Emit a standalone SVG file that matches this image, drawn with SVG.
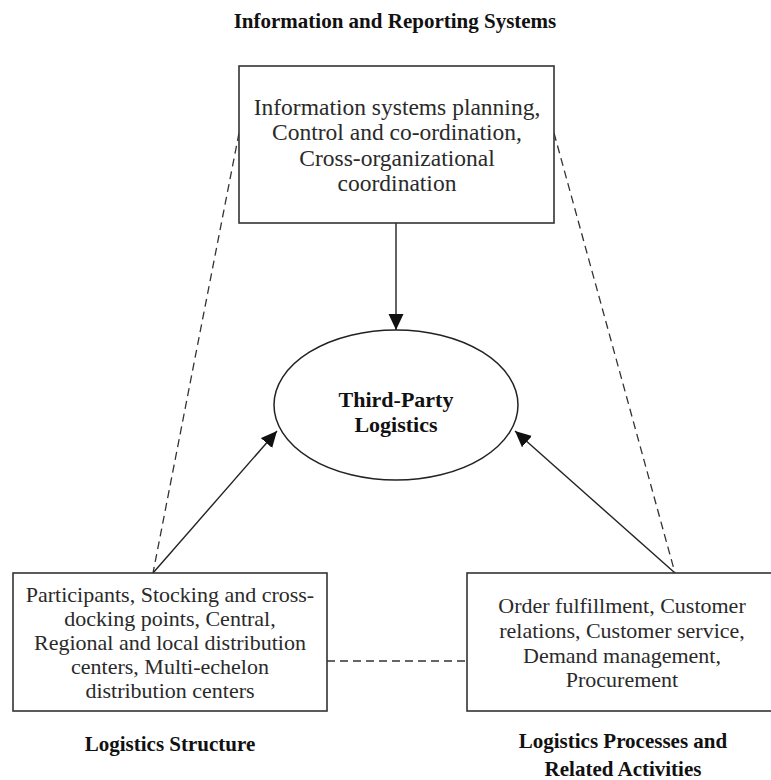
<svg xmlns="http://www.w3.org/2000/svg" width="771" height="780" viewBox="0 0 771 780">
  <style>
    .box { fill: #ffffff; stroke: #333333; stroke-width: 1.6; }
    .body { font-family: "Liberation Serif", "Times New Roman", serif; font-size: 22px; fill: #2a2a2a; text-anchor: middle; }
    .large { font-size: 23.5px; }
    .title { font-family: "Liberation Serif", "Times New Roman", serif; font-size: 21px; font-weight: bold; fill: #111111; text-anchor: middle; }
    .solid { stroke: #222222; stroke-width: 1.4; fill: none; }
    .dash { stroke: #333333; stroke-width: 1.3; fill: none; stroke-dasharray: 8 5; }
  </style>
  <defs>
    <marker id="head" markerUnits="userSpaceOnUse" markerWidth="18" markerHeight="16" refX="16" refY="7.5" orient="auto">
      <path d="M0,0 L16,7.5 L0,15 Z" fill="#111111"/>
    </marker>
  </defs>
  <rect width="771" height="780" fill="#ffffff"/>

  <!-- connectors -->
  <g id="connectors">
    <line class="dash" x1="239" y1="133" x2="153" y2="573"/>
    <line class="dash" x1="554" y1="133" x2="675" y2="573"/>
    <line class="dash" x1="327" y1="661" x2="467" y2="661"/>
    <line class="solid" x1="396" y1="223" x2="396" y2="330" marker-end="url(#head)"/>
    <line class="solid" x1="153" y1="573" x2="277" y2="431" marker-end="url(#head)"/>
    <line class="solid" x1="675" y1="573" x2="515" y2="431" marker-end="url(#head)"/>
  </g>

  <!-- information and reporting systems -->
  <g id="info-systems">
    <text class="title" x="395" y="28">Information and Reporting Systems</text>
    <rect class="box" x="239" y="66" width="315" height="157"/>
    <text class="body large" x="397" y="115">Information systems planning,</text>
    <text class="body large" x="397" y="140">Control and co-ordination,</text>
    <text class="body large" x="397" y="166">Cross-organizational</text>
    <text class="body large" x="397" y="191">coordination</text>
  </g>

  <!-- central node -->
  <g id="third-party">
    <ellipse cx="396" cy="405" rx="122" ry="75" fill="#ffffff" stroke="#222222" stroke-width="1.5"/>
    <text class="title" x="396" y="407" style="font-size:22px">Third-Party</text>
    <text class="title" x="396" y="432" style="font-size:22px">Logistics</text>
  </g>

  <!-- logistics structure -->
  <g id="logistics-structure">
    <rect class="box" x="13" y="573" width="314" height="138"/>
    <text class="body" x="170" y="602">Participants, Stocking and cross-</text>
    <text class="body" x="170" y="626">docking points, Central,</text>
    <text class="body" x="170" y="650">Regional and local distribution</text>
    <text class="body" x="170" y="674">centers, Multi-echelon</text>
    <text class="body" x="170" y="698">distribution centers</text>
    <text class="title" x="170" y="751">Logistics Structure</text>
  </g>

  <!-- logistics processes -->
  <g id="logistics-processes">
    <rect class="box" x="467" y="573" width="312" height="138"/>
    <text class="body" x="622" y="613">Order fulfillment, Customer</text>
    <text class="body" x="622" y="638">relations, Customer service,</text>
    <text class="body" x="622" y="663">Demand management,</text>
    <text class="body" x="622" y="687">Procurement</text>
    <text class="title" x="623" y="748">Logistics Processes and</text>
    <text class="title" x="623" y="776">Related Activities</text>
  </g>
</svg>
